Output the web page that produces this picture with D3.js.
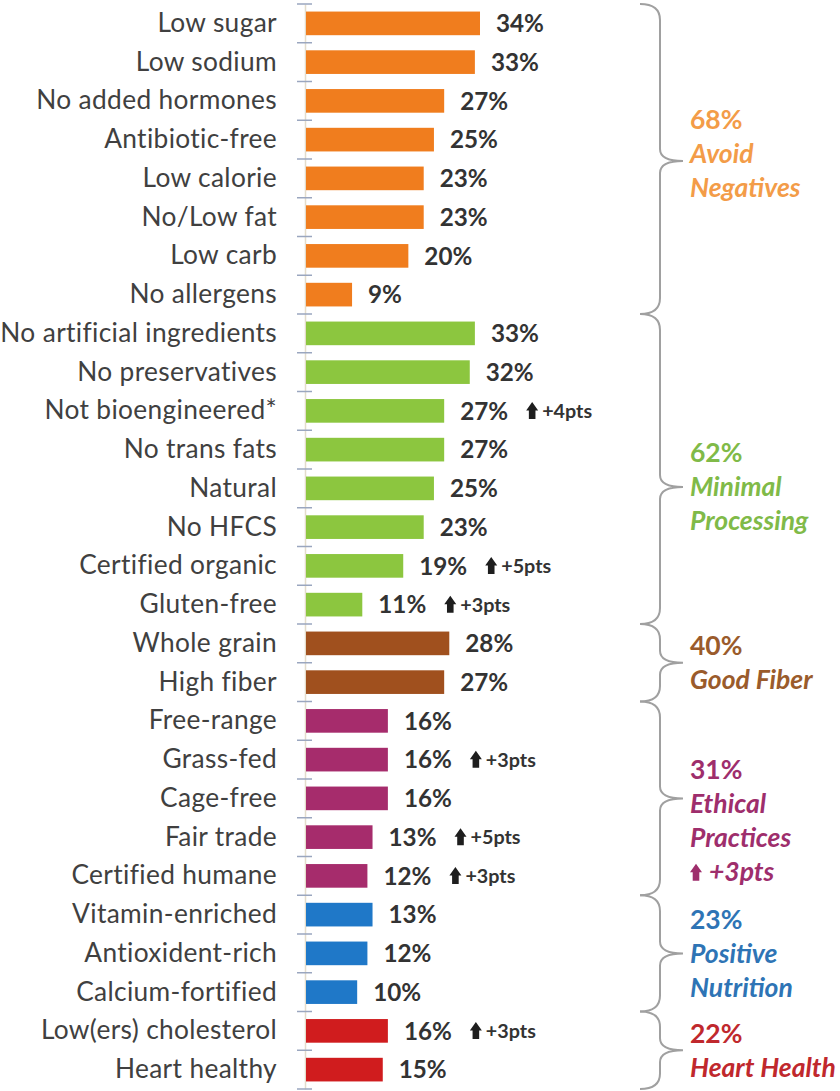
<!DOCTYPE html>
<html>
<head>
<meta charset="utf-8">
<script src="https://cdn.jsdelivr.net/npm/d3@7"></script>
<style>
  html, body { margin: 0; padding: 0; background: #ffffff; }
  svg { display: block; }
</style>
</head>
<body>
<svg id="chart" width="840" height="1091"></svg>
<script>
// ---------------- DATA ----------------
const categories = [
  "Low sugar", "Low sodium", "No added hormones", "Antibiotic-free", "Low calorie",
  "No/Low fat", "Low carb", "No allergens",
  "No artificial ingredients", "No preservatives", "Not bioengineered*", "No trans fats",
  "Natural", "No HFCS", "Certified organic", "Gluten-free",
  "Whole grain", "High fiber",
  "Free-range", "Grass-fed", "Cage-free", "Fair trade", "Certified humane",
  "Vitamin-enriched", "Antioxident-rich", "Calcium-fortified",
  "Low(ers) cholesterol", "Heart healthy"
];
const values = [34, 33, 27, 25, 23, 23, 20, 9,
                33, 32, 27, 27, 25, 23, 19, 11,
                28, 27,
                16, 16, 16, 13, 12,
                13, 12, 10,
                16, 15];
const changes = ["", "", "", "", "", "", "", "",
                 "", "", "+4pts", "", "", "", "+5pts", "+3pts",
                 "", "",
                 "", "+3pts", "", "+5pts", "+3pts",
                 "", "", "",
                 "+3pts", ""];
const groupShares = ["68%", "62%", "40%", "31%", "23%", "22%"];
const groupNameLines = [["Avoid", "Negatives"], ["Minimal", "Processing"], ["Good Fiber"],
                        ["Ethical", "Practices"], ["Positive", "Nutrition"], ["Heart Health"]];
const groupChanges = ["", "", "", "+3pts", "", ""];
const groupSizes = [8, 8, 2, 5, 3, 2];

// ---------------- STYLE ----------------
const barColors  = ["#F07D1E", "#8CC63F", "#A0501E", "#A62C6C", "#1F78C8", "#D01C1E"];
const textColors = ["#F39C48", "#80BA48", "#9A5B2B", "#9E2E6C", "#2E74B5", "#C0282D"];
// layout tweaks for the annotation blocks (pixels)
const tipShift  = [2, 18, 0, 0, 0, 0];
const textShift = [-5, 18, 0, 22, 0, 0];

const svg = d3.select("#chart");
const axisX = 305;

const groupIdx = [];
groupSizes.forEach((n, g) => { for (let i = 0; i < n; i++) groupIdx.push(g); });

// ---------------- SCALES ----------------
const y = d3.scaleBand().domain(categories).range([4, 1089])
  .paddingInner(0.39).paddingOuter(0.195);
const x = d3.scaleLinear().domain([0, 34]).range([axisX + 1, 480]);
const step = y.step();

// ---------------- FONT FITTING ----------------
function fitSize(text, target, weight, style, ls) {
  const t = svg.append("text").attr("font-family", "Lato").attr("font-size", 100)
    .attr("font-weight", weight).attr("font-style", style).text(text);
  const w = t.node().getComputedTextLength();
  t.remove();
  return 100 * target / w;
}
const catSize = fitSize("No artificial ingredients", 268, 400, "normal");
const valSize = fitSize("34%", 48, 700, "normal");
const grpSize = fitSize("Heart Health", 146, 700, "italic");
const ptsSize = fitSize("+4pts", 50, 700, "normal");

// ---------------- AXIS ----------------
const axis = d3.axisLeft(y).tickSize(0).tickPadding(28);
const gAxis = svg.append("g").attr("transform", `translate(${axisX},0)`).call(axis);
gAxis.select(".domain").attr("stroke", "#e3dccb").attr("stroke-width", 1.5);
gAxis.selectAll("text")
  .attr("font-family", "Lato").attr("font-size", catSize)
  .attr("letter-spacing", "0.35px")
  .attr("fill", "#404040");

// boundary tick marks
const bounds = d3.range(categories.length + 1).map(i =>
  i < categories.length ? y(categories[i]) - y.paddingInner() * step / 2
                        : y(categories[i - 1]) + y.bandwidth() + y.paddingInner() * step / 2);
svg.append("g").selectAll("line").data(bounds).join("line")
  .attr("x1", axisX - 8).attr("x2", axisX + 7)
  .attr("y1", d => d).attr("y2", d => d)
  .attr("stroke", "#9aa6bf").attr("stroke-width", 1.5);

// ---------------- BARS ----------------
svg.append("g").selectAll("rect").data(categories).join("rect")
  .attr("x", x(0))
  .attr("y", d => y(d))
  .attr("width", (d, i) => x(values[i]) - x(0))
  .attr("height", y.bandwidth())
  .attr("fill", (d, i) => barColors[groupIdx[i]]);

// value labels
const valLabels = svg.append("g").selectAll("text").data(categories).join("text")
  .attr("x", (d, i) => x(values[i]) + 16)
  .attr("y", d => y(d) + y.bandwidth() / 2)
  .attr("dy", "0.36em")
  .attr("font-family", "Lato").attr("font-weight", 700).attr("font-size", valSize)
  .attr("fill", "#333333")
  .text((d, i) => values[i] + "%");

// arrow shape
function arrowPath(x0, base, h, w) {
  const head = h * 0.5, stem = w * 0.55;
  const cx = x0 + w / 2;
  return `M${cx},${base - h} L${x0 + w},${base - h + head} L${cx + stem / 2},${base - h + head}
          L${cx + stem / 2},${base} L${cx - stem / 2},${base} L${cx - stem / 2},${base - h + head}
          L${x0},${base - h + head} Z`;
}

// change annotations
valLabels.each(function (d, i) {
  if (!changes[i]) return;
  const bb = this.getBBox();
  const cy = y(d) + y.bandwidth() / 2;
  const ax = bb.x + bb.width + 18;
  svg.append("path").attr("d", arrowPath(ax, cy + 8, 17, 12)).attr("fill", "#1e1e1e");
  svg.append("text").attr("x", ax + 16).attr("y", cy).attr("dy", "0.36em")
    .attr("font-family", "Lato").attr("font-weight", 700).attr("font-size", ptsSize)
    .attr("fill", "#333").text(changes[i]);
});

// ---------------- BRACES & GROUP LABELS ----------------
const braceX0 = 640, braceX1 = 660, braceTip = 683;
let start = 0;
groupSizes.forEach((n, g) => {
  const y0 = bounds[start], y1 = bounds[start + n];
  const mid = (y0 + y1) / 2;
  const tip = mid + tipShift[g];
  const r = Math.min(16, (y1 - y0) / 5);
  const p = `M${braceX0},${y0} Q${braceX1},${y0} ${braceX1},${y0 + r}
             L${braceX1},${tip - 12} Q${braceX1},${tip} ${braceTip},${tip}
             Q${braceX1},${tip} ${braceX1},${tip + 12}
             L${braceX1},${y1 - r} Q${braceX1},${y1} ${braceX0},${y1}`;
  svg.append("path").attr("d", p).attr("fill", "none")
    .attr("stroke", "#a0a0a0").attr("stroke-width", 2);

  const lines = [{ t: groupShares[g], it: false }]
    .concat(groupNameLines[g].map(t => ({ t, it: true })));
  if (groupChanges[g]) lines.push({ t: groupChanges[g], it: true, arrow: true });
  const lh = 34;
  lines.forEach((ln, k) => {
    const by = mid + textShift[g] + (k - (lines.length - 1) / 2) * lh + grpSize * 0.35;
    let tx = 690;
    if (ln.arrow) {
      svg.append("path").attr("d", arrowPath(tx, by, 17, 12)).attr("fill", textColors[g]);
      tx += 19;
    }
    svg.append("text").attr("x", tx).attr("y", by)
      .attr("font-family", "Lato").attr("font-weight", 700)
      .attr("font-style", ln.it ? "italic" : "normal")
      .attr("font-size", grpSize)
      .attr("fill", textColors[g]).text(ln.t);
  });
  start += n;
});
</script>
</body>
</html>
